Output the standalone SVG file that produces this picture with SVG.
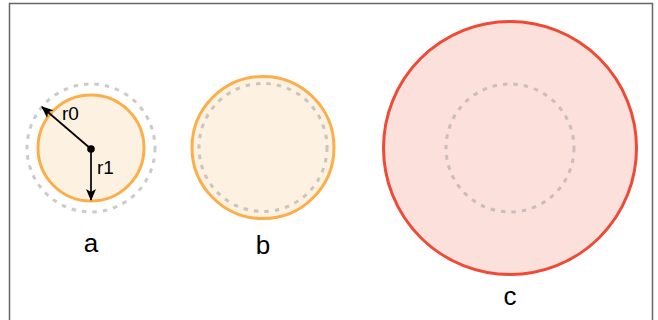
<svg xmlns="http://www.w3.org/2000/svg" width="658" height="320" viewBox="0 0 658 320">
<style>
.lbl{font-family:"Liberation Sans",Arial,sans-serif;fill:#000}
.big{font-size:26px}
.small{font-size:19px}
.dash{fill:none;stroke:#a0a0a0;stroke-opacity:.55;stroke-width:3;stroke-dasharray:4.5 6}
.org{fill:#fdf1e2;stroke:#fbae4a;stroke-width:3}
.red{fill:#fce0dc;stroke:#ef4a36;stroke-width:3}
.arr{stroke:#000;stroke-width:1.7;fill:none}
</style>
<defs>
<marker id="ah" markerWidth="12" markerHeight="12" viewBox="0 0 12 12" refX="11" refY="6" orient="auto" markerUnits="userSpaceOnUse">
<path d="M0,1 L12,6 L0,11 L3,6 Z" fill="#000"/>
</marker>
</defs>
<rect x="9.5" y="3.5" width="643" height="330" fill="#fff" stroke="#666" stroke-width="1.5"/>
<g id="node-a">
<circle class="org" cx="91" cy="148" r="53"/>
<circle class="dash" cx="91" cy="148" r="64"/>
<text class="lbl big" x="91" y="252" text-anchor="middle">a</text>
</g>
<g id="node-b">
<circle class="org" cx="263" cy="147.5" r="71"/>
<circle class="dash" cx="263" cy="147.5" r="64"/>
<text class="lbl big" x="263" y="254" text-anchor="middle">b</text>
</g>
<g id="node-c">
<circle class="red" cx="510" cy="148" r="126.5"/>
<circle class="dash" cx="510" cy="148" r="64"/>
<text class="lbl big" x="510" y="305" text-anchor="middle">c</text>
</g>
<g id="connectors">
<line class="arr" x1="91" y1="149" x2="42" y2="107" marker-end="url(#ah)"/>
<line class="arr" x1="91" y1="149" x2="91" y2="200" marker-end="url(#ah)"/>
<circle cx="91" cy="149" r="3.8" fill="#000"/>
<text class="lbl small" x="62" y="120">r0</text>
<text class="lbl small" x="97" y="174">r1</text>
</g>
</svg>
